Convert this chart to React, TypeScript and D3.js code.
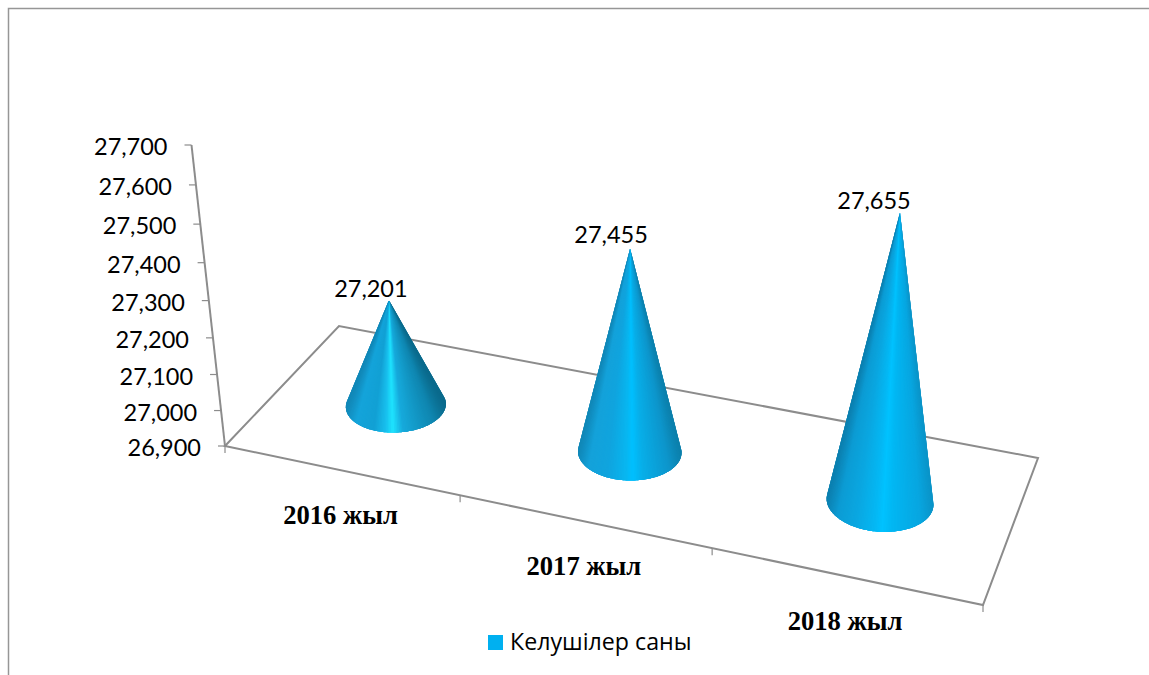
import React from "react";
import * as d3 from "d3";

const categories = ["2016 жыл", "2017 жыл", "2018 жыл"];
const visitors = [27201, 27455, 27655];
const yTicks = [26900, 27000, 27100, 27200, 27300, 27400, 27500, 27600, 27700];
const seriesName = "Келушілер саны";

const W = 1149;
const H = 675;

// floor quad corners: front-left, front-right, back-right, back-left
const quad: [number, number][] = [[225, 446], [983, 605], [1038, 458], [339, 326]];
const axisTop: [number, number] = [191.5, 145];

function makeHomography(q: [number, number][]) {
  const [[x0, y0], [x1, y1], [x2, y2], [x3, y3]] = q;
  const dx1 = x1 - x2, dx2 = x3 - x2, sx = x0 - x1 + x2 - x3;
  const dy1 = y1 - y2, dy2 = y3 - y2, sy = y0 - y1 + y2 - y3;
  const den = dx1 * dy2 - dx2 * dy1;
  const g = (sx * dy2 - dx2 * sy) / den;
  const h = (dx1 * sy - sx * dy1) / den;
  const a = x1 - x0 + g * x1, b = x3 - x0 + h * x3;
  const d = y1 - y0 + g * y1, e = y3 - y0 + h * y3;
  return (u: number, v: number): [number, number] => {
    const w = g * u + h * v + 1;
    return [(a * u + b * v + x0) / w, (d * u + e * v + y0) / w];
  };
}
const floor = makeHomography(quad);

// value axis, foreshortened toward the viewer
const valueT = d3.scaleLinear().domain([26900, 27700]).range([0, 1]);
const persp = 1.07;
const axisF = (v: number) => {
  const t = valueT(v);
  return t / (persp - (persp - 1) * t);
};
const axisX = d3.scaleLinear().domain([0, 1]).range([quad[0][0], axisTop[0]]);
const axisY = d3.scaleLinear().domain([0, 1]).range([quad[0][1], axisTop[1]]);

// category position along the floor
const catU = d3.scaleBand<number>().domain([0, 1, 2]).range([0, 1]);

// per-cone perspective, varying with category index
const idx = [0, 2];
const pxPerUnit = d3.scaleLinear().domain(idx).range([0.35, 0.383]);
const lean = d3.scaleLinear().domain(idx).range([-0.066, 0.069]);
const radiusX = d3.scaleLinear().domain(idx).range([50, 53.5]);
const radiusY = d3.scaleLinear().domain(idx).range([27, 30]);
const tilt = d3.scaleLinear().domain(idx).range([-2.5, 4.5]);

const highlight = [0.47, 0.53, 0.52];
const shades = [
  ["#1288b8", "#14a4da", "#12a0d4", "#18c0ee", "#1ee4ff", "#16aadc", "#0f86b0", "#0a6a8c"],
  ["#1088b8", "#14a2da", "#10a4de", "#08b6f0", "#00c0ff", "#08aee8", "#0d96cc", "#0c80ac"],
  ["#0c80b0", "#0c9cd4", "#0aa8e2", "#04b8f4", "#00c2ff", "#02b6f2", "#08a6e0", "#0b94c8"],
];

const line = d3.line();

function conePieces(i: number) {
  const u = catU(i)! + catU.bandwidth() / 2;
  const [cx, cy] = floor(u, 0.5);
  const height = (visitors[i] - 26900) * pxPerUnit(i);
  const apex: [number, number] = [cx + height * lean(i), cy - height];
  const rx = radiusX(i), ry = radiusY(i);
  const rot = (tilt(i) * Math.PI) / 180;
  const cos = Math.cos(rot), sin = Math.sin(rot);
  // apex in the ellipse's unit-circle frame
  const ax = apex[0] - cx, ay = apex[1] - cy;
  const ux = (ax * cos + ay * sin) / rx;
  const uy = (-ax * sin + ay * cos) / ry;
  const dist = Math.hypot(ux, uy);
  const phi = Math.atan2(uy, ux);
  const off = Math.acos(1 / dist);
  const start = phi + off; // right tangent (angle grows clockwise on screen)
  const end = phi - off + 2 * Math.PI;
  const pt = (th: number): [number, number] => {
    const ex = rx * Math.cos(th), ey = ry * Math.sin(th);
    return [cx + ex * cos - ey * sin, cy + ex * sin + ey * cos];
  };
  const n = 110;
  const angles = d3.range(n + 1).map((k) => start + ((end - start) * k) / n);
  const pts = angles.map(pt);
  const xr = d3.extent(pts, (p) => p[0]) as [number, number];
  const h = highlight[i];
  const stops = [0, 0.1, 0.28, h - 0.07, h, h + 0.1, 0.88, 1];
  const colorAt = d3
    .scaleLinear<string>()
    .domain(stops.map((s) => xr[0] + s * (xr[1] - xr[0])))
    .range(shades[i])
    .interpolate(d3.interpolateRgb);
  // painter's fan: every wedge overlaps the following ones, so seams never show the page
  const slices = d3.range(n).map((k) => ({
    d: line([apex, ...pts.slice(k, Math.min(k + 5, n + 1))]) + "Z",
    fill: colorAt((pts[k][0] + pts[k + 1][0]) / 2),
  }));
  return { apex, slices };
}

const labelOffset = [[-18, -3], [-19, -6], [-26, -4]];
const serif = "'Liberation Serif', serif";
const sans = "Lato, 'Open Sans', sans-serif";
const gray = "#8c8c8c";

export default function App() {
  const cones = categories.map((_, i) => conePieces(i));
  const floorPath = line(quad) + "Z";
  return (
    <svg
      width={W}
      height={H}
      viewBox={`0 0 ${W} ${H}`}
      style={{ position: "absolute", left: 0, top: 0, background: "#fff" }}
    >
      <path d={`M8.5 ${H}V8.5H${W}`} fill="none" stroke="#969696" strokeWidth={1.5} />

      <path d={floorPath} fill="none" stroke={gray} strokeWidth={2} />
      <line
        x1={axisTop[0]} y1={axisTop[1]} x2={quad[0][0]} y2={quad[0][1]}
        stroke={gray} strokeWidth={2}
      />

      {yTicks.map((v) => {
        const f = axisF(v);
        const x = axisX(f), y = axisY(f);
        return (
          <g key={v}>
            <line x1={x - 7} x2={x} y1={y} y2={y} stroke={gray} strokeWidth={1.2} />
            <text
              x={x - 24} y={y + 10} textAnchor="end"
              fontFamily={sans} fontSize={23.5} fill="#000"
            >
              {d3.format(",")(v)}
            </text>
          </g>
        );
      })}

      {d3.range(4).map((k) => {
        const [x, y] = floor(k / 3, 0);
        return <line key={k} x1={x} x2={x} y1={y} y2={y + 7} stroke={gray} strokeWidth={1.2} />;
      })}

      {cones.map((c, i) => (
        <g key={i}>
          {c.slices.map((s, k) => (
            <path key={k} d={s.d} fill={s.fill} />
          ))}
        </g>
      ))}

      {cones.map((c, i) => (
        <text
          key={i}
          x={c.apex[0] + labelOffset[i][0]}
          y={c.apex[1] + labelOffset[i][1]}
          textAnchor="middle"
          fontFamily={sans}
          fontSize={23.5}
          fill="#000"
        >
          {d3.format(",")(visitors[i])}
        </text>
      ))}

      {categories.map((name, i) => {
        const [x, y] = floor(catU(i)! + catU.bandwidth() / 2, 0);
        return (
          <text
            key={name}
            x={x} y={y + 53.5}
            textAnchor="middle"
            fontFamily={serif}
            fontWeight="bold"
            fontSize={26.6}
            fill="#000"
          >
            {name}
          </text>
        );
      })}

      <rect x={488} y={635} width={15} height={15} fill="#00b0f0" />
      <text x={510} y={650} fontFamily="'Open Sans', sans-serif" fontSize={23.2} fill="#000">
        {seriesName}
      </text>
    </svg>
  );
}
